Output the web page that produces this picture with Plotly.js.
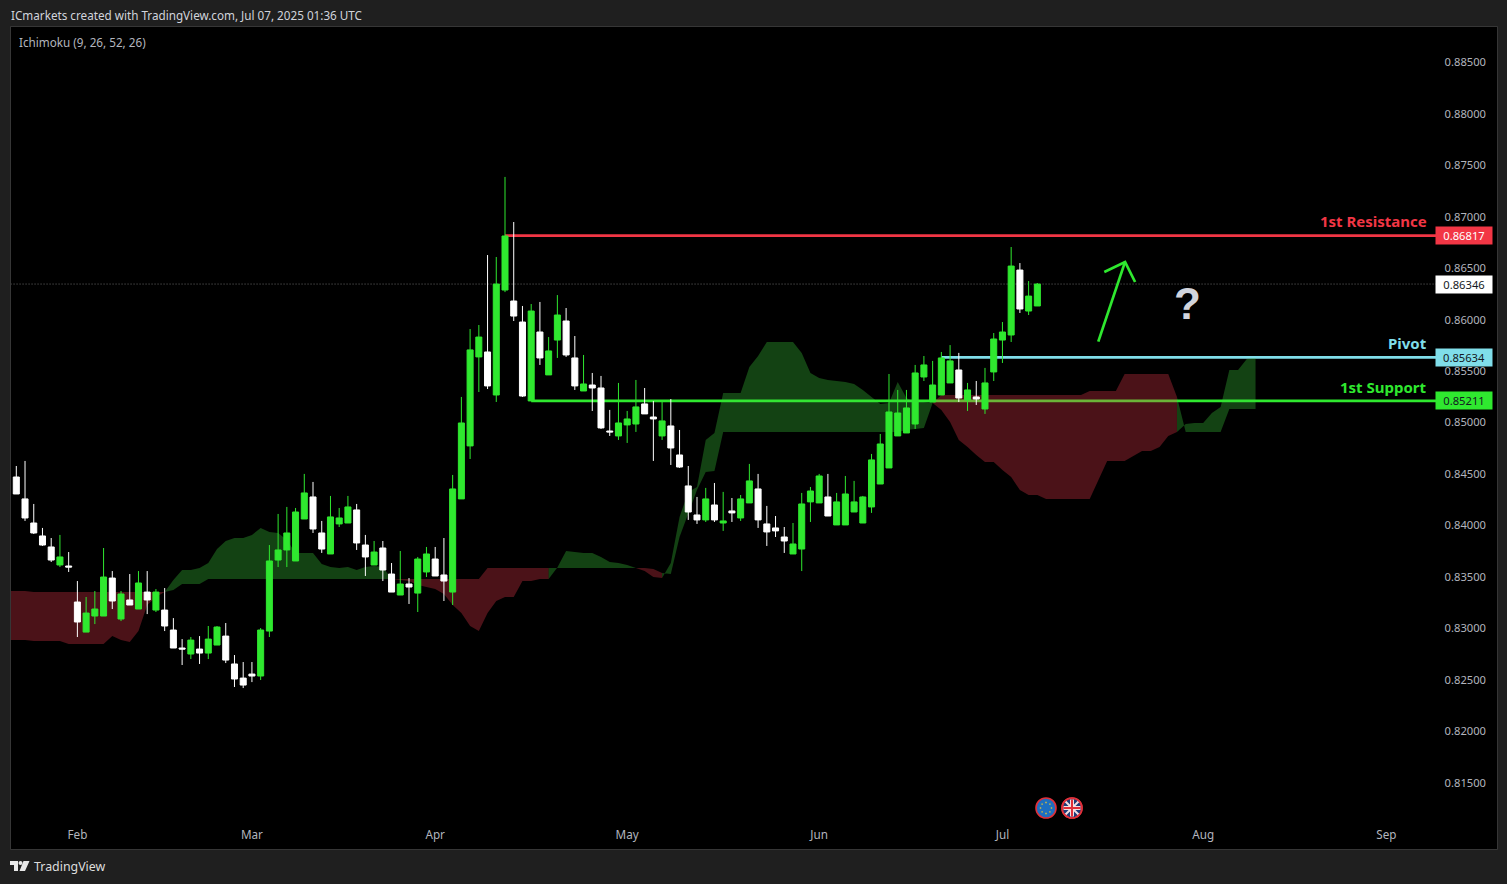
<!DOCTYPE html>
<html>
<head>
<meta charset="utf-8">
<script src="https://cdn.plot.ly/plotly-3.0.1.min.js"></script>
<style>html,body{margin:0;padding:0;background:#1f1f1f;overflow:hidden}#chart{width:1507px;height:884px}</style>
</head>
<body>
<div id="chart"></div>
<script>
var opens = [.84471,.84258,.84024,.83898,.83791,.83616,.83606,.83256,.82964,.83120,.83120,.83489,.83091,.83276,.83188,.83353,.83178,.83178,.82984,.82809,.82751,.82799,.82760,.82838,.82925,.82654,.82517,.82556,.82537,.82974,.83664,.83762,.83655,.84063,.84277,.83927,.83723,.84015,.84024,.84151,.83810,.83616,.83781,.83528,.83324,.83431,.83343,.83548,.83674,.83519,.83353,.84258,.84773,.85638,.85686,.85268,.86288,.86181,.85977,.85210,.85880,.85463,.85802,.85987,.85628,.85307,.85365,.85336,.84918,.84870,.84977,.84986,.85181,.85054,.84870,.84967,.84685,.84384,.84102,.84054,.84199,.84024,.84141,.84073,.84219,.84355,.84015,.83976,.83888,.83723,.83771,.84229,.84219,.84277,.84005,.84005,.84131,.84024,.84180,.84403,.84559,.84870,.84899,.84986,.85443,.85200,.85268,.85385,.85511,.85220,.85249,.85132,.85492,.85802,.85851,.86482,.86084,.86133];
var highs = [.84578,.84627,.84209,.83976,.83878,.83908,.83742,.83460,.83305,.83363,.83781,.83557,.83363,.83528,.83557,.83557,.83382,.83392,.83100,.82896,.82916,.82925,.83023,.83023,.83052,.82741,.82673,.82673,.83003,.83810,.84112,.84180,.84170,.84501,.84423,.84044,.84287,.84170,.84287,.84209,.83908,.83849,.83849,.83635,.83752,.83489,.83694,.83791,.83791,.83878,.84491,.85249,.85909,.85948,.86628,.86609,.87387,.86949,.86133,.86152,.86172,.85831,.86239,.86113,.85841,.85657,.85482,.85453,.85123,.85385,.85113,.85414,.85336,.85210,.85200,.85229,.84928,.84578,.84277,.84365,.84413,.84326,.84267,.84296,.84598,.84501,.84190,.84092,.83985,.84024,.84316,.84374,.84501,.84501,.84316,.84481,.84433,.84287,.84695,.84889,.85472,.85317,.85317,.85560,.85647,.85599,.85686,.85753,.85677,.85385,.85404,.85531,.85870,.85977,.86706,.86550,.86375,.86356];
var lows = [.84306,.84044,.83917,.83801,.83645,.83596,.83548,.82916,.82964,.83042,.83120,.83188,.83071,.83227,.83188,.83139,.83159,.82974,.82809,.82644,.82702,.82654,.82702,.82838,.82663,.82430,.82420,.82478,.82498,.82916,.83596,.83596,.83655,.84063,.83927,.83733,.83723,.83985,.84024,.83762,.83509,.83616,.83460,.83353,.83324,.83237,.83159,.83499,.83509,.83266,.83227,.84258,.84646,.85297,.85326,.85200,.86268,.85987,.85249,.85210,.85560,.85463,.85628,.85638,.85317,.85307,.85113,.84938,.84870,.84831,.84802,.84909,.85084,.84627,.84831,.84588,.84559,.84054,.84015,.84034,.84034,.83947,.84034,.84044,.84219,.83976,.83801,.83888,.83733,.83723,.83557,.84034,.84219,.84092,.84005,.84005,.84131,.84024,.84122,.84403,.84559,.84870,.84899,.84938,.85404,.85200,.85268,.85385,.85200,.85113,.85171,.85084,.85404,.85579,.85783,.86065,.86045,.86133];
var closes = [.84306,.84073,.83927,.83810,.83664,.83694,.83596,.83062,.83149,.83188,.83499,.83266,.83334,.83227,.83441,.83276,.83353,.83023,.82809,.82799,.82886,.82760,.82896,.83013,.82692,.82508,.82449,.82537,.82984,.83655,.83762,.83927,.84131,.84316,.83966,.83771,.84083,.84073,.84180,.83830,.83694,.83742,.83567,.83353,.83431,.83402,.83674,.83723,.83509,.83460,.84355,.84996,.85706,.85831,.85356,.86346,.86813,.86035,.85258,.86084,.85628,.85696,.86045,.85657,.85356,.85375,.85336,.84948,.84909,.84996,.85035,.85152,.85084,.85035,.85016,.84753,.84568,.84131,.84054,.84258,.84054,.84044,.84122,.84258,.84433,.84054,.83937,.83947,.83849,.83820,.84209,.84335,.84481,.84092,.84229,.84306,.84229,.84277,.84637,.84792,.85103,.85093,.85142,.85482,.85560,.85365,.85628,.85599,.85239,.85317,.85229,.85385,.85812,.85880,.86521,.86104,.86229,.86346];

// spans start one bar before the first visible candle
var spanA = [.82886,.82886,.82886,.82877,.82877,.82877,.82877,.82848,.82848,.82848,.82848,.82848,.82925,.82886,.82867,.82974,.83227,.83305,.83353,
 .83470,.83567,.83567,.83587,.83635,.83771,.83849,.83878,.83878,.83908,.83976,.83937,.83927,.83859,.83733,.83733,.83733,.83626,.83596,.83587,.83596,.83567,.83596,.83606,.83596,.83480,
 .83470,.83460,.83421,.83402,.83382,.83334,.83227,.83149,.83023,.82974,.83149,.83266,.83305,.83305,.83460,.83460,.83480,.83480,.83592,
 .83752,.83742,.83733,.83733,.83694,.83645,.83635,.83616,.83587,.83557,.83499,.83489,
 .83635,.84083,.84326,.84374,.84831,.84899,.85288,.85288,.85288,.85540,.85647,.85783,.85783,.85783,.85783,.85677,.85482,.85433,.85414,.85404,.85395,.85375,.85317,.85249,.85181,.85191,.85395,.85239,.85200,.85200,.85191,
 .85123,.85006,.84831,.84763,.84685,.84617,.84617,.84540,.84471,.84345,.84296,.84296,.84258,.84258,.84258,.84258,.84258,.84258,.84442,.84627,.84627,.84627,.84675,.84724,.84724,.84763,.84870,.84909,
 .84986,.84996,.84996,.85093,.85152,.85511,.85511,.85618,.85628];
var spanB = [.83363,.83363,.83363,.83353,.83353,.83353,.83353,.83353,.83353,.83353,.83353,.83353,.83353,.83353,.83353,.83353,.83353,.83353,.83353,
 .83373,.83431,.83431,.83431,.83480,.83480,.83480,.83480,.83480,.83480,.83480,.83480,.83480,.83480,.83480,.83480,.83480,.83480,.83480,.83480,.83480,.83480,.83480,.83480,.83480,.83480,
 .83480,.83480,.83480,.83480,.83480,.83480,.83480,.83480,.83480,.83480,.83587,.83587,.83587,.83587,.83587,.83587,.83587,.83587,.83587,
 .83587,.83587,.83587,.83587,.83587,.83587,.83587,.83587,.83587,.83587,.83577,.83538,
 .83528,.83888,.84122,.84345,.84520,.84530,.84909,.84909,.84909,.84909,.84909,.84909,.84909,.84909,.84909,.84909,.84909,.84909,.84909,.84909,.84909,.84909,.84909,.84909,.84909,.84909,.84909,.84928,.84938,.84948,.85191,
 .85268,.85268,.85268,.85268,.85268,.85268,.85268,.85268,.85268,.85268,.85268,.85268,.85268,.85268,.85268,.85268,.85268,.85307,.85307,.85307,.85307,.85472,.85472,.85472,.85472,.85472,.85472,.85249,
 .84909,.84909,.84909,.84909,.84909,.85132,.85132,.85132,.85132];

var resistance = 0.86817, pivot = 0.85634, support = 0.85211, lastPrice = 0.86346;
var resistanceStart = '2025-04-11', pivotStart = '2025-06-20', supportStart = '2025-04-16', levelEnd = '2025-09-09';
var priceTicks = [0.815,0.82,0.825,0.83,0.835,0.84,0.845,0.85,0.855,0.86,0.865,0.87,0.875,0.88,0.885];
var monthDates = ['2025-02-03','2025-03-03','2025-04-01','2025-05-01','2025-06-02','2025-07-01','2025-08-01','2025-09-01'];
var monthLabels = ['Feb','Mar','Apr','May','Jun','Jul','Aug','Sep'];
var arrowBars = [124.98,128.05,125.67,128.05,129.2];
var arrowPrices = [0.85786,0.86561,0.86464,0.86561,0.86366];

var barDates = [];
(function(){ var t = Date.UTC(2025,0,22);
  while (barDates.length < 175) { var d = new Date(t); var w = d.getUTCDay();
    if (w !== 0 && w !== 6) barDates.push(d.toISOString().slice(0,10)); t += 86400000; } })();

var GREEN='#2fe82f', RED='#f23645', CYAN='#80deea', WHITE='#ffffff';
var FONT='"Noto Sans", sans-serif';

function X(p){return (p-11)/1486;}
function Y(p){return (849-p)/822;}
var traces=[];
function level(name,start,val,color){
  traces.push({type:'scatter',mode:'lines',name:name,x:[start,levelEnd],y:[val,val],line:{color:color,width:2.7},hoverinfo:'skip',showlegend:false});
}
level('1st Resistance',resistanceStart,resistance,RED);
level('Pivot',pivotStart,pivot,CYAN);
level('1st Support',supportStart,support,GREEN);
traces.push({type:'scatter',mode:'lines',name:'Last',x:[barDates[0],levelEnd],y:[lastPrice,lastPrice],line:{color:'#6a6a6a',width:1,dash:'1px,2px'},hoverinfo:'skip',showlegend:false});

// Cloud polygons: every stretch between the two spans takes its colour from which span leads
function cloud(from,to,up){
  var xs=[],ys=[],i;
  for(i=from;i<=to;i++){xs.push(barDates[i]);ys.push(spanA[i]);}
  for(i=to;i>=from;i--){xs.push(barDates[i]);ys.push(spanB[i]);}
  traces.push({type:'scatter',mode:'lines',x:xs,y:ys,fill:'toself',
    fillcolor:up?'rgba(63,220,63,0.3)':'rgba(247,60,80,0.3)',line:{width:0},hoverinfo:'skip',showlegend:false});
}
(function(){
  function up(i){ return spanA[i]===spanB[i] ? spanA[i-1]>spanB[i-1] : spanA[i]>spanB[i]; }
  var s=0, cur=up(1);
  for(var i=1;i<spanA.length-1;i++){ var u=up(i+1);
    if(u!==cur){cloud(s,i,cur);s=i;cur=u;} }
  cloud(s,spanA.length-1,cur);
})();

traces.push({type:'candlestick',xaxis:'x2',yaxis:'y2',x:barDates.slice(1,opens.length+1),open:opens,high:highs,low:lows,close:closes,
  increasing:{line:{color:GREEN,width:1},fillcolor:GREEN},
  decreasing:{line:{color:WHITE,width:1},fillcolor:WHITE},
  whiskerwidth:0,hoverinfo:'skip',showlegend:false});

var xr=[0.393,170.67], yr=[0.80856,0.88844];
var anns=[];
function txt(t,px,py,size,color,anchor,extra){
  anns.push(Object.assign({text:t,xref:'paper',yref:'paper',x:X(px),y:Y(py),xanchor:anchor||'left',yanchor:'middle',showarrow:false,
    font:{family:FONT,size:size,color:color},borderpad:0},extra||{}));
}
txt('ICmarkets created with TradingView.com, Jul 07, 2025 01:36 UTC',10,15,11.7,'#d1d4dc');
txt('Ichimoku (9, 26, 52, 26)',17.5,42,11.7,'#b2b5be');
txt('<b>1st Resistance</b>',1428,221,15,RED,'right');
txt('<b>Pivot</b>',1428,343,15,CYAN,'right');
txt('<b>1st Support</b>',1428,387,15,GREEN,'right');
txt('TradingView',33,866,12.4,'#dddddd');
txt('<b>?</b>',1187,303,44,'#d1d4dc','center',{font:{family:'"Liberation Sans",sans-serif',size:44,color:'#d1d4dc'}});
function tag(val,bg,fg){
  anns.push({text:val.toFixed(5),xref:'paper',yref:'y',x:X(1464),y:val,xanchor:'center',yanchor:'middle',showarrow:false,
    width:56,height:17,bgcolor:bg,borderpad:0,font:{family:FONT,size:11.2,color:fg}});
}
tag(resistance,RED,'#ffffff');
tag(lastPrice,'#ffffff','#131722');
tag(pivot,CYAN,'#131722');
tag(support,GREEN,'#131722');

var shapes=[];
function pr(x0,y0,x1,y1,o){return Object.assign({xref:'paper',yref:'paper',x0:X(x0),y0:Y(y0),x1:X(x1),y1:Y(y1)},o);}
shapes.push(pr(10.5,26.5,1497.5,849.5,{type:'rect',line:{color:'#363636',width:1},fillcolor:'rgba(0,0,0,0)'}));
// arrow drawn in chart coordinates
shapes.push({type:'path',xref:'x',yref:'y',path:'M'+arrowBars[0]+' '+arrowPrices[0]+' L'+arrowBars[1]+' '+arrowPrices[1],line:{color:GREEN,width:2.7}});
shapes.push({type:'path',xref:'x',yref:'y',path:'M'+arrowBars[2]+' '+arrowPrices[2]+' L'+arrowBars[3]+' '+arrowPrices[3]+' L'+arrowBars[4]+' '+arrowPrices[4],line:{color:GREEN,width:2.7}});
// event flags
function circ(cx,cy,r,fill,lc,lw){return pr(cx-r,cy-r,cx+r,cy+r,{type:'circle',fillcolor:fill,line:{color:lc,width:lw}});}
shapes.push(circ(1046,808,10,'#1d6fc0','#e0303a',1.6));
for(var k=0;k<8;k++){var a=k*Math.PI/4,sx=1046+5.5*Math.cos(a),sy=808+5.5*Math.sin(a);
  shapes.push(pr(sx-0.7,sy-0.7,sx+0.7,sy+0.7,{type:'rect',fillcolor:'#e6c531',line:{width:0}}));}
shapes.push(circ(1072,808,10,'#1d3c78','#e0303a',1.6));
function seg(x0,y0,x1,y1,c,w){shapes.push(pr(x0,y0,x1,y1,{type:'line',line:{color:c,width:w}}));}
seg(1065.5,801.5,1078.5,814.5,'#f2dfe2',2);seg(1065.5,814.5,1078.5,801.5,'#f2dfe2',2);
seg(1072,799.5,1072,816.5,'#f2dfe2',4);seg(1063.5,808,1080.5,808,'#f2dfe2',4);
seg(1072,799.5,1072,816.5,'#e0303a',2);seg(1063.5,808,1080.5,808,'#e0303a',2);
shapes.push(circ(1072,808,10,'rgba(0,0,0,0)','#e0303a',1.6));
// TradingView mark
function ppt(x,y){return X(x)+' '+Y(y);}
shapes.push({type:'path',xref:'paper',yref:'paper',fillcolor:'#e8e8e8',line:{width:0},
  path:'M'+ppt(10,861)+' L'+ppt(18,861)+' L'+ppt(18,871)+' L'+ppt(14,871)+' L'+ppt(14,865)+' L'+ppt(10,865)+' Z '+
       'M'+ppt(23.5,861)+' L'+ppt(29.5,861)+' L'+ppt(25,871)+' L'+ppt(19.5,871)+' Z'});
shapes.push(circ(20.5,863,2,'#e8e8e8','#e8e8e8',0));

var layout={
  width:1507,height:884,autosize:false,showlegend:false,
  paper_bgcolor:'#1f1f1f',plot_bgcolor:'#000000',
  margin:{l:11,r:10,t:27,b:35,pad:0},
  boxmode:'overlay',boxgap:0.31,boxgroupgap:0,
  hovermode:false,dragmode:false,
  xaxis:{type:'category',categoryorder:'array',categoryarray:barDates,range:xr,fixedrange:true,showgrid:false,zeroline:false,
    tickmode:'array',tickvals:monthDates,ticktext:monthLabels,ticks:'',ticklabelposition:'inside',ticklabelstandoff:5,showline:false,
    tickfont:{family:FONT,size:11.7,color:'#b2b5be'},rangeslider:{visible:false}},
  yaxis:{range:yr,side:'right',fixedrange:true,showgrid:false,zeroline:false,tickmode:'array',tickvals:priceTicks,tickformat:'.5f',
    ticks:'',ticklabelposition:'inside',ticklabelstandoff:8,showline:false,tickfont:{family:FONT,size:11.2,color:'#b2b5be'}},
  xaxis2:{type:'category',categoryorder:'array',categoryarray:barDates,overlaying:'x',range:xr,fixedrange:true,visible:false,rangeslider:{visible:false}},
  yaxis2:{overlaying:'y',side:'right',range:yr,fixedrange:true,visible:false},
  annotations:anns,shapes:shapes
};
Plotly.newPlot('chart',traces,layout,{displayModeBar:false,staticPlot:true});
</script>
</body>
</html>
